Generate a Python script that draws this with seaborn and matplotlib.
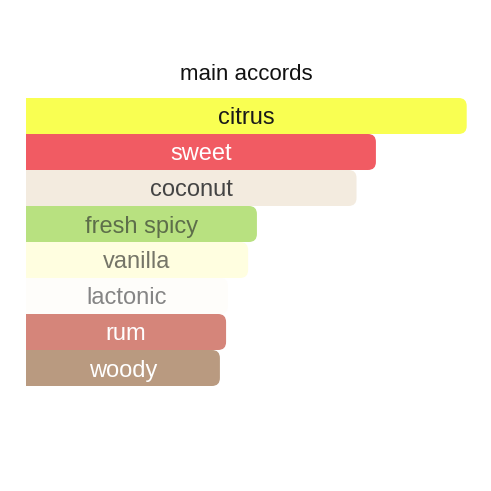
import matplotlib
matplotlib.use("Agg")
import matplotlib.pyplot as plt
import seaborn as sns
import pandas as pd
from matplotlib.patches import FancyBboxPatch

accords = ["citrus", "sweet", "coconut", "fresh spicy", "vanilla", "lactonic", "rum", "woody"]
strength = [100, 79.4, 75.0, 52.4, 50.4, 45.8, 45.4, 44.0]
bar_colors = ["#F9FF52", "#F15B63", "#F3EBDF", "#B8E180", "#FFFEE0", "#FEFDFA", "#D5857A", "#B99A80"]
text_colors = ["#1a1a1a", "#ffffff", "#444444", "#5d6e4a", "#757568", "#858585", "#ffffff", "#ffffff"]

df = pd.DataFrame({"accord": accords, "strength": strength})

sns.set_theme(style="white")
plt.rcParams["font.family"] = ["Liberation Sans", "DejaVu Sans"]

W = H = 491
fig = plt.figure(figsize=(W / 100, H / 100), dpi=100)
fig.patch.set_facecolor("white")
left, right = 26, 466.7
top, bottom = 98.0, 386.0
ax = fig.add_axes([left / W, 1 - bottom / H, (right - left) / W, (bottom - top) / H])

sns.barplot(data=df, x="strength", y="accord", hue="accord", palette=bar_colors,
            legend=False, width=1.0, orient="h", ax=ax, saturation=1)
ax.set_xlim(0, 100)
ax.set_ylim(len(accords) - 0.5, -0.5)
ax.axis("off")

px_x = (right - left) / 100.0
px_y = (bottom - top) / len(accords)
r_px = 8
rx = r_px / px_x
ry = r_px / px_y

patches = list(ax.patches)
for p in patches:
    x0, y0 = p.get_x(), p.get_y()
    w, h = p.get_width(), p.get_height()
    fc = p.get_facecolor()
    p.set_visible(False)
    fb = FancyBboxPatch((x0 - rx * 2, y0), w + rx * 2, h,
                        boxstyle=f"round,pad=0,rounding_size={rx}",
                        mutation_aspect=ry / rx, facecolor=fc, edgecolor="none",
                        transform=ax.transData, clip_on=True)
    fb.set_clip_box(ax.bbox)
    ax.add_patch(fb)

for i, (name, val) in enumerate(zip(accords, strength)):
    ax.text(val / 2, i, name, ha="center", va="center_baseline", fontsize=17,
            color=text_colors[i])

fig.text(246 / W, 1 - 72 / H, "main accords", ha="center", va="center_baseline",
         fontsize=16, color="#111111")

fig.savefig("out.png", dpi=100, facecolor="white")
